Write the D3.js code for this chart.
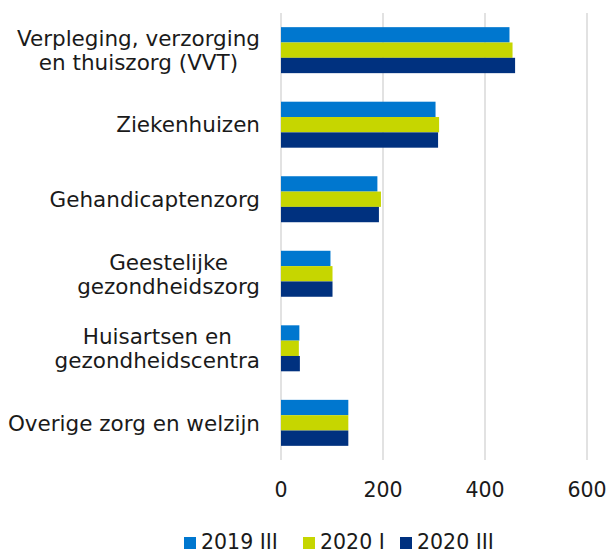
<!DOCTYPE html>
<html>
<head>
<meta charset="utf-8">
<script src="https://cdn.jsdelivr.net/npm/d3@7"></script>
<style>
  body { margin: 0; background: #fff; }
  svg { font-family: "DejaVu Sans", Verdana, sans-serif; }
</style>
</head>
<body>
<div id="chart"></div>
<script>
// categories (lines of each label) and series
const categories = [
  ['Verpleging, verzorging', 'en thuiszorg (VVT)'],
  ['Ziekenhuizen'],
  ['Gehandicaptenzorg'],
  ['Geestelijke', 'gezondheidszorg'],
  ['Huisartsen en', 'gezondheidscentra'],
  ['Overige zorg en welzijn']
];
const seriesNames = ['2019 III', '2020 I', '2020 III'];
const seriesColors = ['#0077cf', '#c6d600', '#00317f'];
const values2019III = [448, 303, 189, 97, 36, 132];
const values2020I = [454, 310, 196, 101, 35, 132];
const values2020III = [459, 308, 192, 101, 37, 132];
const xTicks = [0, 200, 400, 600];

const width = 609, height = 554;
const margin = {top: 13, right: 22, bottom: 94, left: 281};

const svg = d3.select('#chart').append('svg')
  .attr('width', width)
  .attr('height', height);

const x = d3.scaleLinear()
  .domain([0, 600])
  .range([margin.left, width - margin.right]);

const catIdx = d3.range(categories.length);
const y = d3.scaleBand()
  .domain(catIdx)
  .range([margin.top, height - margin.bottom])
  .paddingInner(0.383)
  .paddingOuter(0.19);

const ySub = d3.scaleBand()
  .domain(d3.range(seriesNames.length))
  .range([0, y.bandwidth()]);

// gridlines
svg.append('g')
  .selectAll('line')
  .data(xTicks)
  .join('line')
  .attr('x1', d => x(d)).attr('x2', d => x(d))
  .attr('y1', margin.top).attr('y2', height - margin.bottom)
  .attr('stroke', '#d9d9d9')
  .attr('stroke-width', 1.5);

// tick labels
svg.append('g')
  .selectAll('text')
  .data(xTicks)
  .join('text')
  .attr('x', d => x(d))
  .attr('y', 497)
  .attr('text-anchor', 'middle')
  .attr('font-size', 20.5)
  .attr('fill', '#1a1a1a')
  .text(d => d);

// bars
const allSeries = [values2019III, values2020I, values2020III];
const groups = svg.append('g')
  .selectAll('g')
  .data(catIdx)
  .join('g')
  .attr('transform', i => `translate(0,${y(i)})`);

groups.selectAll('rect')
  .data(i => allSeries.map((vals, s) => ({s, v: vals[i]})))
  .join('rect')
  .attr('x', x(0))
  .attr('y', d => ySub(d.s))
  .attr('width', d => x(d.v) - x(0))
  .attr('height', ySub.bandwidth())
  .attr('fill', d => seriesColors[d.s]);

// category labels, right aligned block, lines centred within block
const labelRight = 260;
const lineH = 24;
const labels = svg.append('g')
  .selectAll('text')
  .data(catIdx)
  .join('text')
  .attr('font-size', 21.5)
  .attr('fill', '#1a1a1a')
  .attr('text-anchor', 'middle');

labels.each(function(i) {
  const t = d3.select(this);
  const lines = categories[i];
  const cy = y(i) + y.bandwidth() / 2;
  lines.forEach((ln, k) => {
    t.append('tspan')
      .attr('y', cy + (k - (lines.length - 1) / 2) * lineH)
      .attr('dy', '0.36em')
      .text(ln);
  });
  let maxW = 0;
  t.selectAll('tspan').each(function() {
    maxW = Math.max(maxW, this.getComputedTextLength());
  });
  t.selectAll('tspan').attr('x', labelRight - maxW / 2);
});

// legend
const legendX = [184, 303, 400];
const legend = svg.append('g')
  .selectAll('g')
  .data(seriesNames)
  .join('g')
  .attr('transform', (d, i) => `translate(${legendX[i]},537)`);

legend.append('rect')
  .attr('width', 12).attr('height', 12)
  .attr('fill', (d, i) => seriesColors[i]);

legend.append('text')
  .attr('x', 17)
  .attr('y', 12)
  .attr('font-size', 20.5)
  .attr('fill', '#1a1a1a')
  .text(d => d);
</script>
</body>
</html>
